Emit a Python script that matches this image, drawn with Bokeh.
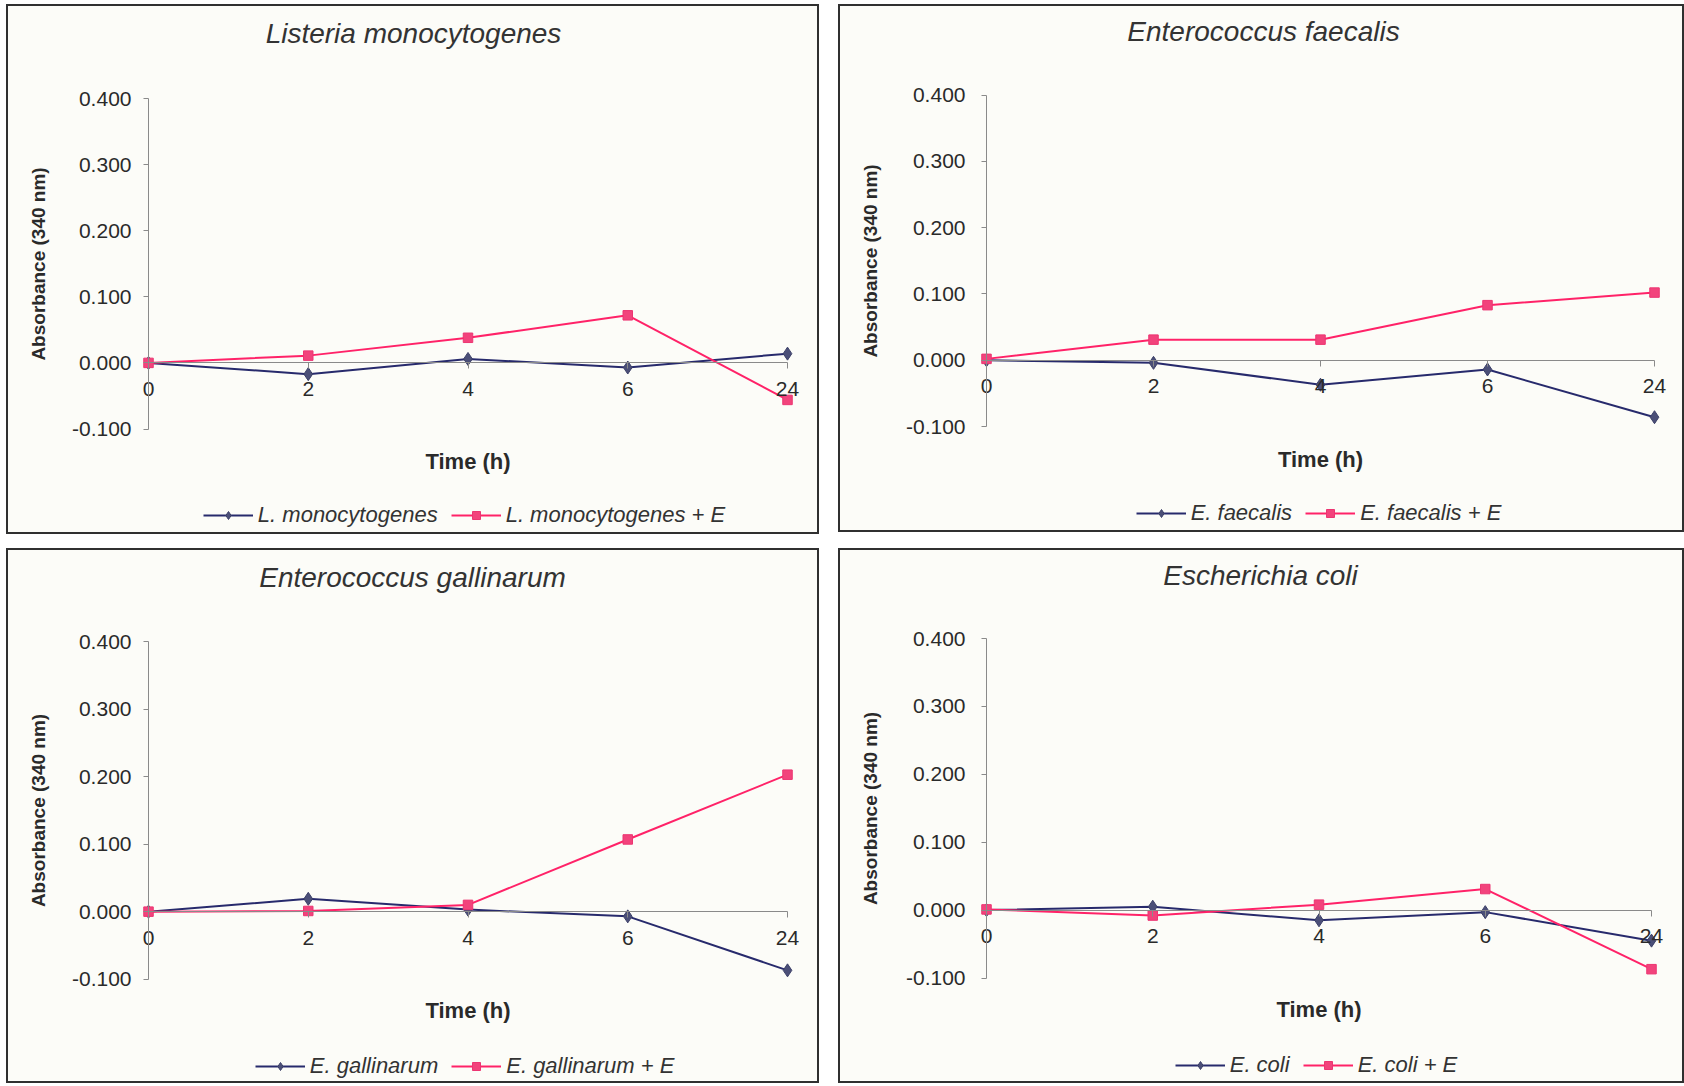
from bokeh.plotting import figure
from bokeh.models import (Range1d, FixedTicker, NumeralTickFormatter, Legend,
                          LegendItem, LinearAxis, Label)
from bokeh.layouts import row, column
from bokeh.embed import file_html
from bokeh.resources import INLINE

# ---------------- data ----------------
times = ["0", "2", "4", "6", "24"]

listeria = [0.000, -0.017, 0.006, -0.007, 0.014]
listeria_e = [0.000, 0.011, 0.038, 0.072, -0.056]

faecalis = [0.000, -0.004, -0.037, -0.014, -0.086]
faecalis_e = [0.002, 0.031, 0.031, 0.083, 0.102]

gallinarum = [0.000, 0.019, 0.003, -0.007, -0.087]
gallinarum_e = [0.000, 0.001, 0.010, 0.107, 0.203]

coli = [0.000, 0.005, -0.015, -0.003, -0.045]
coli_e = [0.001, -0.008, 0.008, 0.031, -0.087]

y_ticks = [-0.1, 0.0, 0.1, 0.2, 0.3, 0.4]

# ---------------- styling ----------------
FONT = "Liberation Sans"
NAVY_LINE = "#272a6c"
NAVY_MARK = "#4b4f78"
PINK_LINE = "#ff2268"
PINK_MARK = "#f2437c"
BG = "#fcfcf8"
TEXT = "#2a2a2a"
TITLE_SIZE = 28
TICK_SIZE = "21px"
LEG_SIZE = 22
LEG_GLYPH_W = 50
LEG_STANDOFF = 5
LEG_SPACING = 13
LEG_PAD = 2

# Arial / Liberation Sans advance widths (em) for legend width estimate
AW = {' ': 0.278, '.': 0.278, '+': 0.584, 'E': 0.667, 'L': 0.556, 'a': 0.556,
      'c': 0.5, 'e': 0.556, 'f': 0.278, 'g': 0.556, 'h': 0.556, 'i': 0.222,
      'l': 0.222, 'm': 0.833, 'n': 0.556, 'o': 0.556, 'r': 0.333, 's': 0.5,
      't': 0.278, 'u': 0.556, 'y': 0.5}


def text_w(s, size):
    return sum(AW.get(c, 0.556) for c in s) * size


def panel(title, name_a, name_b, ya, yb, g):
    W, H = g["w"], g["h"]
    x0, x4 = g["ax0"], g["ax4"]
    y04, ym01 = g["y04"], g["ym01"]
    n = len(times) - 1
    ppx = (x4 - x0) / n
    ppy = (ym01 - y04) / 0.5
    # frame covers the whole canvas
    xr = Range1d(-x0 / ppx, (W - x0) / ppx)
    yr = Range1d(-0.1 - (H - ym01) / ppy, 0.4 + y04 / ppy)

    def to_x(px):
        return (px - x0) / ppx

    def to_y(py):
        return 0.4 - (py - y04) / ppy

    p = figure(width=W, height=H, x_range=xr, y_range=yr,
               output_backend="svg", toolbar_location=None,
               x_axis_location=None, y_axis_location=None,
               min_border=0, min_border_left=0, min_border_right=0,
               min_border_top=0, min_border_bottom=0,
               background_fill_color=BG, border_fill_color=BG,
               outline_line_color="#303030", outline_line_width=3)
    p.xgrid.visible = False
    p.ygrid.visible = False
    p.margin = g["margin"]

    # chart title
    p.add_layout(Label(x=to_x(g["title_cx"]), y=to_y(g["title_cy"]),
                       text=title, text_align="center", text_baseline="middle",
                       text_font=FONT, text_font_style="italic",
                       text_font_size=f"{TITLE_SIZE}px", text_color="#333333"))

    # y axis fixed at x = 0
    yax = LinearAxis(fixed_location=0, bounds=(-0.1, 0.4))
    yax.ticker = FixedTicker(ticks=y_ticks)
    yax.formatter = NumeralTickFormatter(format="0.000")
    yax.axis_line_color = "#8a8a8a"
    yax.major_tick_line_color = "#8a8a8a"
    yax.major_tick_in = 0
    yax.major_tick_out = 5
    yax.minor_tick_line_color = None
    yax.major_label_standoff = g["ytick_standoff"]
    yax.major_label_text_font = FONT
    yax.major_label_text_font_size = TICK_SIZE
    yax.major_label_text_color = TEXT
    yax.axis_label = "Absorbance (340 nm)"
    yax.axis_label_text_font = FONT
    yax.axis_label_text_font_style = "bold"
    yax.axis_label_text_font_size = "19px"
    yax.axis_label_text_color = TEXT
    yax.axis_label_standoff = g["ylab_standoff"]
    p.add_layout(yax, "left")

    # x axis fixed at y = 0
    xax = LinearAxis(fixed_location=0, bounds=(0, n))
    xax.ticker = FixedTicker(ticks=list(range(len(times))))
    xax.major_label_overrides = {i: t for i, t in enumerate(times)}
    xax.axis_line_color = "#8a8a8a"
    xax.major_tick_line_color = "#8a8a8a"
    xax.major_tick_in = 0
    xax.major_tick_out = 6
    xax.minor_tick_line_color = None
    xax.major_label_standoff = 13
    xax.major_label_text_font = FONT
    xax.major_label_text_font_size = TICK_SIZE
    xax.major_label_text_color = TEXT
    xax.axis_label = "Time (h)"
    xax.axis_label_text_font = FONT
    xax.axis_label_text_font_style = "bold"
    xax.axis_label_text_font_size = "22px"
    xax.axis_label_text_color = TEXT
    xax.axis_label_standoff = 50
    p.add_layout(xax, "below")

    xs = list(range(len(times)))
    la = p.line(xs, ya, line_color=NAVY_LINE, line_width=2)
    ma = p.scatter(xs, ya, marker="diamond", size=13,
                   fill_color=NAVY_MARK, line_color="#3c4068")
    lb = p.line(xs, yb, line_color=PINK_LINE, line_width=2)
    mb = p.scatter(xs, yb, marker="square", size=9.5,
                   fill_color=PINK_MARK, line_color="#ec3572")

    lw = (2 * LEG_PAD + 2 * (LEG_GLYPH_W + LEG_STANDOFF) + LEG_SPACING
          + text_w(name_a, LEG_SIZE) + text_w(name_b, LEG_SIZE))
    lh = 25 + 2 * LEG_PAD
    vx = g["leg_cx"] - lw / 2
    vy = H - g["leg_cy"] - lh / 2
    leg = Legend(items=[LegendItem(label=name_a, renderers=[la, ma]),
                        LegendItem(label=name_b, renderers=[lb, mb])],
                 orientation="horizontal", location=(vx, vy),
                 glyph_width=LEG_GLYPH_W, glyph_height=20,
                 label_standoff=LEG_STANDOFF, spacing=LEG_SPACING,
                 padding=LEG_PAD, margin=0,
                 border_line_color=None, background_fill_alpha=0,
                 label_text_font=FONT, label_text_font_style="italic",
                 label_text_font_size=f"{LEG_SIZE}px", label_text_color="#333333")
    p.add_layout(leg, "center")
    return p


g1 = dict(w=813, h=530, ax0=142, ax4=781, y04=94, ym01=424.5, leg_cx=460,
          leg_cy=509, title_cx=407, title_cy=29, ytick_standoff=12,
          ylab_standoff=20, margin=(4, 0, 0, 6))
g2 = dict(w=846, h=528, ax0=148, ax4=816, y04=90.5, ym01=422, leg_cx=482.5,
          leg_cy=507, title_cx=425, title_cy=27, ytick_standoff=16,
          ylab_standoff=22, margin=(4, 0, 0, 19))
g3 = dict(w=813, h=535, ax0=142, ax4=781, y04=93.3, ym01=430.6, leg_cx=460.6,
          leg_cy=516.5, title_cx=406, title_cy=29, ytick_standoff=12,
          ylab_standoff=20, margin=(14, 0, 0, 6))
g4 = dict(w=846, h=535, ax0=148, ax4=813, y04=90, ym01=429.5, leg_cx=480,
          leg_cy=515.4, title_cx=422, title_cy=27, ytick_standoff=16,
          ylab_standoff=22, margin=(14, 0, 0, 19))

p1 = panel("Listeria monocytogenes", "L. monocytogenes", "L. monocytogenes + E",
           listeria, listeria_e, g1)
p2 = panel("Enterococcus faecalis", "E. faecalis", "E. faecalis + E",
           faecalis, faecalis_e, g2)
p3 = panel("Enterococcus gallinarum", "E. gallinarum", "E. gallinarum + E",
           gallinarum, gallinarum_e, g3)
p4 = panel("Escherichia coli", "E. coli", "E. coli + E", coli, coli_e, g4)

layout = column(row(p1, p2), row(p3, p4))

open("out.html", "w").write(file_html(layout, INLINE))
